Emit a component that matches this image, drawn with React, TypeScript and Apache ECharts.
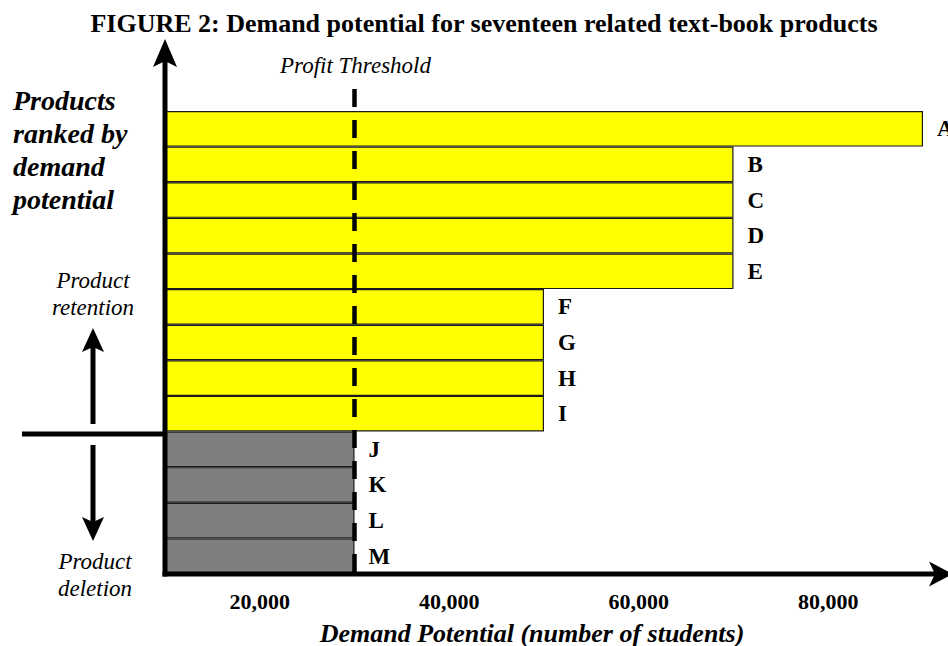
import React, { useEffect, useRef } from 'react';
import * as echarts from 'echarts';

// ---- data ----
const PRODUCTS = ['A', 'B', 'C', 'D', 'E', 'F', 'G', 'H', 'I', 'J', 'K', 'L', 'M'];
const DEMAND = [90000, 70000, 70000, 70000, 70000, 50000, 50000, 50000, 50000, 30000, 30000, 30000, 30000];
const THRESHOLD = 30000;
const X_LABEL_VALUES = [20000, 40000, 60000, 80000];
const X_MIN = 10000;
const X_MAX = 90000;

const TITLE = 'FIGURE 2: Demand potential for seventeen related text-book products';
const X_NAME = 'Demand Potential (number of students)';
const Y_NAME_LINES = ['Products', 'ranked by', 'demand', 'potential'];
const RETENTION_LINES = ['Product', 'retention'];
const DELETION_LINES = ['Product', 'deletion'];
const THRESHOLD_NAME = 'Profit Threshold';

const SERIF = '"Liberation Serif", "Times New Roman", serif';
const YELLOW = '#ffff00';
const GRAY = '#7f7f7f';

function txt(x: number, y: number, text: string, font: string, align: string = 'center') {
  return {
    type: 'text',
    x,
    y,
    z: 100,
    silent: true,
    style: {
      text,
      font,
      fill: '#000',
      align,
      verticalAlign: 'middle',
      textAlign: align,
      textVerticalAlign: 'middle',
    },
  };
}

function seg(x1: number, y1: number, x2: number, y2: number, w: number, dash?: number[]) {
  return {
    type: 'line',
    z: 100,
    silent: true,
    shape: { x1, y1, x2, y2 },
    style: { stroke: '#000', lineWidth: w, lineDash: dash || null, lineCap: 'butt' },
  };
}

function poly(points: number[][]) {
  return {
    type: 'polygon',
    z: 101,
    silent: true,
    shape: { points },
    style: { fill: '#000' },
  };
}

export default function App() {
  const ref = useRef<HTMLDivElement>(null);

  useEffect(() => {
    if (!ref.current) return;
    const chart = echarts.init(ref.current, null, { renderer: 'svg' });

    const staticGraphics: any[] = [
      txt(484, 23, TITLE, `bold 26px ${SERIF}`),
      ...Y_NAME_LINES.map((t, i) => txt(13, 100.5 + i * 33, t, `italic bold 28px ${SERIF}`, 'left')),
      ...RETENTION_LINES.map((t, i) => txt(93, 280 + i * 27, t, `italic 23px ${SERIF}`)),
      ...DELETION_LINES.map((t, i) => txt(95, 561 + i * 27, t, `italic 23px ${SERIF}`)),
      txt(532, 633, X_NAME, `italic bold 26px ${SERIF}`),
      // y axis with arrow
      seg(165, 60, 165, 576.5, 5),
      poly([[165, 39], [153, 67], [165, 61], [177, 67]]),
      // x axis with arrow
      seg(162.5, 574, 938, 574, 5),
      poly([[953, 574], [929, 561.5], [935, 574], [929, 586.5]]),
      // retention / deletion divider and arrows
      seg(22, 434, 165, 434, 5),
      seg(93, 424, 93, 346, 5),
      poly([[93, 328], [82, 352], [93, 347], [104, 352]]),
      seg(93, 445, 93, 522, 5),
      poly([[93, 541], [82, 517], [93, 522], [104, 517]]),
    ];

    const option: any = {
      animation: false,
      backgroundColor: '#ffffff',
      grid: { left: 165, right: 25, top: 111, bottom: 72, containLabel: false },
      xAxis: {
        type: 'value',
        min: X_MIN,
        max: X_MAX,
        interval: 10000,
        axisLine: { show: false },
        axisTick: { show: false },
        splitLine: { show: false },
        axisLabel: {
          margin: 16,
          color: '#000',
          fontFamily: SERIF,
          fontWeight: 'bold',
          fontSize: 22,
          formatter: (v: number) => (X_LABEL_VALUES.indexOf(v) >= 0 ? v.toLocaleString('en-US') : ''),
        },
      },
      yAxis: {
        type: 'category',
        data: PRODUCTS,
        inverse: true,
        axisLine: { show: false },
        axisTick: { show: false },
        axisLabel: { show: false },
        splitLine: { show: false },
      },
      series: [
        {
          type: 'bar',
          barCategoryGap: '0%',
          data: DEMAND.map((v) => ({
            value: v,
            itemStyle: { color: v > THRESHOLD ? YELLOW : GRAY },
          })),
          itemStyle: { borderColor: '#1a1a1a', borderWidth: 1.2 },
          label: {
            show: true,
            position: 'right',
            distance: 14,
            formatter: '{b}',
            color: '#000',
            fontFamily: SERIF,
            fontWeight: 'bold',
            fontSize: 23,
          },
        },
      ],
      graphic: staticGraphics,
    };

    chart.setOption(option);

    const tx = chart.convertToPixel({ xAxisIndex: 0 }, THRESHOLD) as number;
    chart.setOption({
      graphic: [
        ...staticGraphics,
        seg(tx, 89, tx, 574, 4.5, [18, 13]),
        txt(tx + 1, 65, THRESHOLD_NAME, `italic 23px ${SERIF}`),
      ],
    }, { replaceMerge: ['graphic'] });

    return () => chart.dispose();
  }, []);

  return (
    <div
      ref={ref}
      style={{ position: 'fixed', left: 0, top: 0, width: 948, height: 646, background: '#fff' }}
    />
  );
}
